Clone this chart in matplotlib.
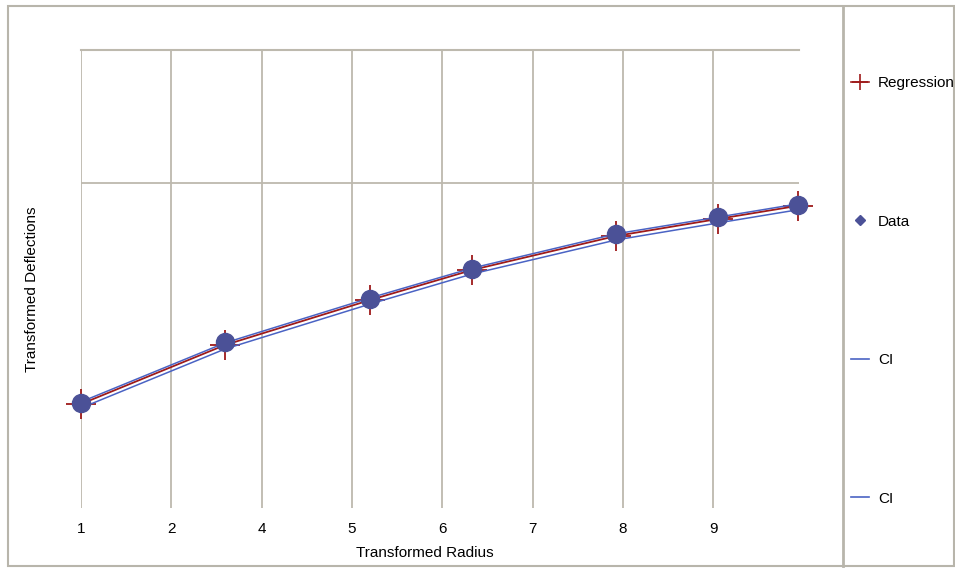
import matplotlib
matplotlib.use("Agg")
import matplotlib.pyplot as plt
from matplotlib.lines import Line2D
from matplotlib.patches import Rectangle

plt.rcParams['font.family'] = ['Liberation Sans', 'DejaVu Sans']

# values
radius = [1.0, 2.596, 4.202, 5.332, 6.928, 8.058, 8.934]
data_y = [-0.327, -0.098, 0.064, 0.177, 0.308, 0.372, 0.417]
regression_y = [-0.331, -0.109, 0.060, 0.173, 0.301, 0.365, 0.414]
ci_upper = [-0.323, -0.101, 0.068, 0.180, 0.309, 0.372, 0.421]
ci_lower = [-0.346, -0.124, 0.045, 0.158, 0.286, 0.350, 0.399]

tick_pos = [1, 2, 3, 4, 5, 6, 7, 8]
tick_labels = ['1', '2', '4', '5', '6', '7', '8', '9']
ygrid = [0.5]

red = '#9E1A1A'
blue = '#4A63C4'
dot = '#4B5197'
gridc = '#BDB9AE'

fig = plt.figure(figsize=(9.55, 5.68), dpi=100)
ax = fig.add_axes([0.0848, 0.1056, 0.7518, 0.8064])

ax.plot(radius, regression_y, color=red, lw=1.3, marker='+', ms=21, mew=1.3, zorder=3, clip_on=False)
ax.plot(radius, ci_upper, color=blue, lw=1.1, zorder=4, clip_on=False)
ax.plot(radius, ci_lower, color=blue, lw=1.1, zorder=4, clip_on=False)
ax.plot(radius, data_y, ls='none', marker='o', ms=13, color=dot, mec=dot, zorder=5, clip_on=False)

ax.set_xlim(1, 8.95)
ax.set_ylim(-0.722, 1.0)
ax.set_xticks(tick_pos)
ax.set_xticklabels(tick_labels, fontsize=11)
ax.set_yticks([])
ax.tick_params(axis='x', length=0, pad=10)
for s in ax.spines.values():
    s.set_visible(False)
ax.grid(axis='x', color=gridc, lw=1.3)
for g in ygrid:
    ax.axhline(g, color=gridc, lw=1.3, zorder=1)
ax.axhline(1.0, color=gridc, lw=1.5, zorder=1, clip_on=False)
ax.set_axisbelow(True)

ax.set_xlabel('Transformed Radius', fontsize=11)
ax.xaxis.set_label_coords(0.479, -0.083)
ax.set_ylabel('Transformed Deflections', fontsize=11)
ax.yaxis.set_label_coords(-0.059, 0.478)

# outer frame and legend separator
fig.patches.append(Rectangle((8 / 955, 2 / 568), 946 / 955, 560 / 568, transform=fig.transFigure,
                             fill=False, ec='#B8B5AB', lw=1.5))
fig.add_artist(Line2D([843 / 955, 843 / 955], [2 / 568, 562 / 568], transform=fig.transFigure,
                      color='#B8B5AB', lw=2))

handles = [
    Line2D([], [], color=red, lw=1.2, marker='+', ms=12, mew=1.2),
    Line2D([], [], ls='none', marker='D', ms=5, color=dot),
    Line2D([], [], color=blue, lw=1.2),
    Line2D([], [], color=blue, lw=1.2),
]
fig.legend(handles, ['Regression', 'Data', 'CI', 'CI'], loc='upper left',
           bbox_to_anchor=(845 / 955, 1 - 70 / 568), frameon=False, fontsize=11,
           handlelength=1.2, handletextpad=0.55, labelspacing=8.15, borderaxespad=0)

fig.savefig('out.png', dpi=100)
